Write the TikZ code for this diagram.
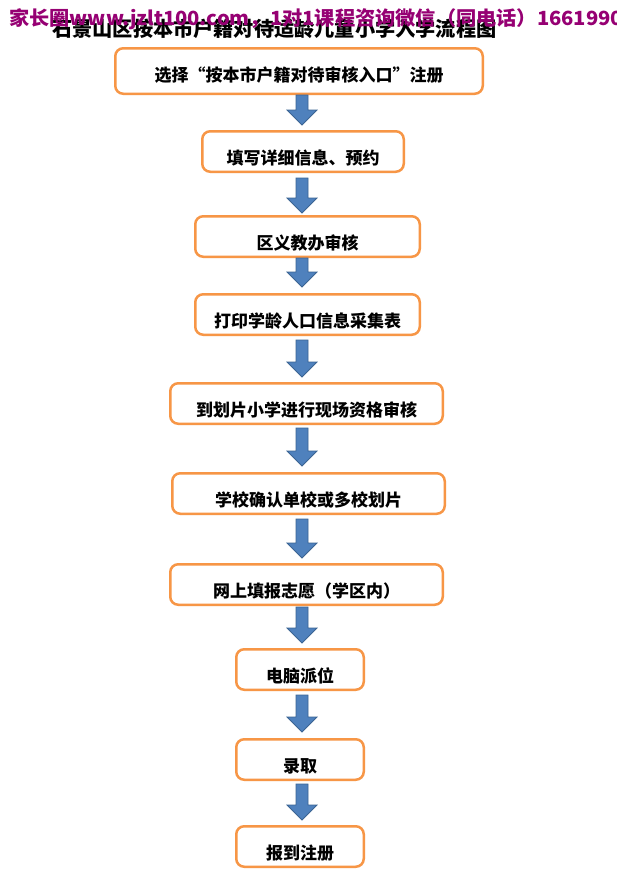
\documentclass[tikz,border=0pt]{standalone}
\usepackage{fontspec}
\usepackage{graphicx}
\newfontfamily\cjk{Noto Sans CJK SC}
\usetikzlibrary{calc}
\definecolor{boxorange}{HTML}{F79646}
\definecolor{arrowblue}{HTML}{4F81BD}
\definecolor{arrowedge}{HTML}{3B6493}
\definecolor{wmark}{RGB}{150,0,115}
\tikzset{
  flowbox/.style={draw=boxorange, line width=2.5pt, rounded corners=8pt, fill=white,
    font=\cjk\bfseries\fontsize{17}{17}\selectfont, inner sep=0pt,
    text height=25pt, text depth=0pt, align=center},
  blockarrow/.style={fill=arrowblue, draw=arrowedge, line width=0.8pt, line join=miter},
}
\newcommand\barrow[4]{%
  \draw[blockarrow] let \p1=(#1.south), \p2=(#2.north) in
    (296pt,\y1-#3) -- (308pt,\y1-#3) -- (308pt,\y2+#4+15pt) -- (317pt,\y2+#4+15pt)
    -- (302pt,\y2+#4) -- (287pt,\y2+#4+15pt) -- (296pt,\y2+#4+15pt) -- cycle;}
\begin{document}
\begin{tikzpicture}[x=1pt,y=-1pt]
\path[use as bounding box, fill=white] (0,0) rectangle (617,876);
\begin{scope}
\clip (0,0) rectangle (617,876);
\node[anchor=base west, inner sep=0pt, font=\cjk\bfseries\fontsize{20.2}{20.2}\selectfont] (title) at (52,36.5) {石景山区按本市户籍对待适龄儿童小学入学流程图};

\node[flowbox, minimum width=367.5pt, minimum height=45.5pt, text height=21pt] (b1) at (299,71) {选择“按本市户籍对待审核入口”注册};
\node[flowbox, minimum width=201.5pt, minimum height=40.5pt] (b2) at (303,151.5) {填写详细信息、预约};
\node[flowbox, minimum width=224.5pt, minimum height=40.5pt] (b3) at (307.5,236.5) {区义教办审核};
\node[flowbox, minimum width=224.5pt, minimum height=40.5pt] (b4) at (307.5,314.5) {打印学龄人口信息采集表};
\node[flowbox, minimum width=272.5pt, minimum height=40.5pt] (b5) at (306.5,403.5) {到划片小学进行现场资格审核};
\node[flowbox, minimum width=272.5pt, minimum height=40.5pt] (b6) at (308.5,493.5) {学校确认单校或多校划片};
\node[flowbox, minimum width=272.5pt, minimum height=40.5pt] (b7) at (306.5,584.5) {网上填报志愿（学区内）};
\node[flowbox, minimum width=127.5pt, minimum height=40.5pt] (b8) at (300,669.5) {电脑派位};
\node[flowbox, minimum width=127.5pt, minimum height=40.5pt] (b9) at (300,759.5) {录取};
\node[flowbox, minimum width=127.5pt, minimum height=40.5pt] (b10) at (300,846.5) {报到注册};

\barrow{b1}{b2}{0pt}{5pt}
\barrow{b2}{b3}{5pt}{2pt}
\barrow{b3}{b4}{0pt}{6pt}
\barrow{b4}{b5}{4pt}{5pt}
\barrow{b5}{b6}{3pt}{6pt}
\barrow{b6}{b7}{4pt}{5pt}
\barrow{b7}{b8}{1pt}{5pt}
\barrow{b8}{b9}{4pt}{6pt}
\barrow{b9}{b10}{3pt}{5pt}

\node[anchor=base west, inner sep=0pt, text=wmark, font=\cjk\bfseries\fontsize{19.5}{19.5}\selectfont] (wm) at (9,25.8) {\resizebox{614pt}{\height}{家长圈www.jzlt100.com，1对1课程咨询微信（同电话）1661990}};
\end{scope}
\end{tikzpicture}
\end{document}
